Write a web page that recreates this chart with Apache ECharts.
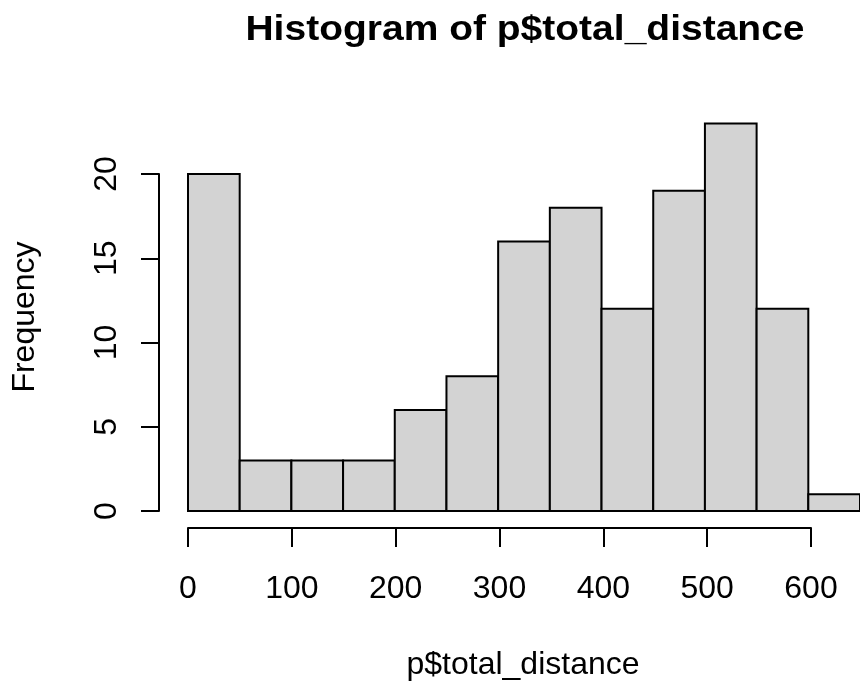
<!DOCTYPE html>
<html>
<head>
<meta charset="utf-8">
<title>Histogram of p$total_distance</title>
<script src="https://cdn.jsdelivr.net/npm/echarts@6/dist/echarts.min.js"></script>
<style>
  html, body { margin: 0; padding: 0; background: #fff; }
  #chart { width: 860px; height: 681px; }
</style>
</head>
<body>
<div id="chart"></div>
<script>
// Histogram bins (width 50) and their frequencies
const binStarts = [0, 50, 100, 150, 200, 250, 300, 350, 400, 450, 500, 550, 600];
const binWidth = 50;
const counts = [20, 3, 3, 3, 6, 8, 16, 18, 12, 19, 23, 12, 1];

// Tick labels
const xTicks = [0, 100, 200, 300, 400, 500, 600];
const yTicks = [0, 5, 10, 15, 20];

const FONT = '"Liberation Sans", Arial, sans-serif';

const binData = binStarts.map((s, i) => [s, s + binWidth, counts[i]]);

const chart = echarts.init(document.getElementById('chart'), null, { renderer: 'canvas' });

const option = {
  backgroundColor: '#ffffff',
  animation: false,
  grid: [
    // plotting area for the bars
    { left: 188, top: 89.75, width: 675, height: 421.25 },
    // frame for the left frequency axis
    { left: 159, top: 174, width: 10, height: 337 },
    // frame for the bottom distance axis
    { left: 188, top: 500, width: 623, height: 28 }
  ],
  xAxis: [
    { gridIndex: 0, type: 'value', min: 0, max: 650, show: false },
    { gridIndex: 1, type: 'value', min: 0, max: 1, show: false },
    {
      gridIndex: 2, type: 'value', min: xTicks[0], max: xTicks[xTicks.length - 1], interval: 100,
      position: 'bottom',
      axisLine: { show: true, lineStyle: { color: '#000', width: 2 } },
      axisTick: { show: true, length: 19, lineStyle: { color: '#000', width: 2 } },
      axisLabel: {
        show: true, margin: 45, color: '#000', fontSize: 32, fontFamily: FONT,
        showMinLabel: true, showMaxLabel: true,
        formatter: v => xTicks.includes(v) ? String(v) : ''
      },
      splitLine: { show: false }
    }
  ],
  yAxis: [
    { gridIndex: 0, type: 'value', min: 0, max: 25, show: false },
    {
      gridIndex: 1, type: 'value', min: yTicks[0], max: yTicks[yTicks.length - 1], interval: 5,
      position: 'left',
      axisLine: { show: true, lineStyle: { color: '#000', width: 2 } },
      axisTick: { show: true, length: 18, lineStyle: { color: '#000', width: 2 } },
      axisLabel: {
        show: true, rotate: 90, margin: 36, color: '#000', fontSize: 32, fontFamily: FONT,
        showMinLabel: true, showMaxLabel: true,
        formatter: v => yTicks.includes(v) ? String(v) : ''
      },
      splitLine: { show: false }
    },
    { gridIndex: 2, type: 'value', min: 0, max: 1, show: false }
  ],
  graphic: [
    {
      type: 'text', x: 525, y: 30, scaleY: 0.92,
      style: {
        text: 'Histogram of p$total_distance', fill: '#000',
        font: 'bold 39px ' + FONT, textAlign: 'center', textVerticalAlign: 'middle'
      }
    },
    {
      type: 'text', x: 523, y: 665,
      style: {
        text: 'p$total_distance', fill: '#000',
        font: '32px ' + FONT, textAlign: 'center', textVerticalAlign: 'middle'
      }
    },
    {
      type: 'text', x: 25, y: 317, rotation: Math.PI / 2,
      style: {
        text: 'Frequency', fill: '#000',
        font: '32px ' + FONT, textAlign: 'center', textVerticalAlign: 'middle'
      }
    }
  ],
  series: [
    {
      type: 'custom',
      xAxisIndex: 0,
      yAxisIndex: 0,
      clip: false,
      data: binData,
      encode: { x: [0, 1], y: 2 },
      renderItem: function (params, api) {
        const p0 = api.coord([api.value(0), 0]);
        const p1 = api.coord([api.value(1), api.value(2)]);
        return {
          type: 'rect',
          shape: { x: p0[0], y: p1[1], width: p1[0] - p0[0], height: p0[1] - p1[1] },
          style: { fill: '#d3d3d3', stroke: '#000', lineWidth: 2 }
        };
      }
    }
  ]
};

chart.setOption(option);
</script>
</body>
</html>
